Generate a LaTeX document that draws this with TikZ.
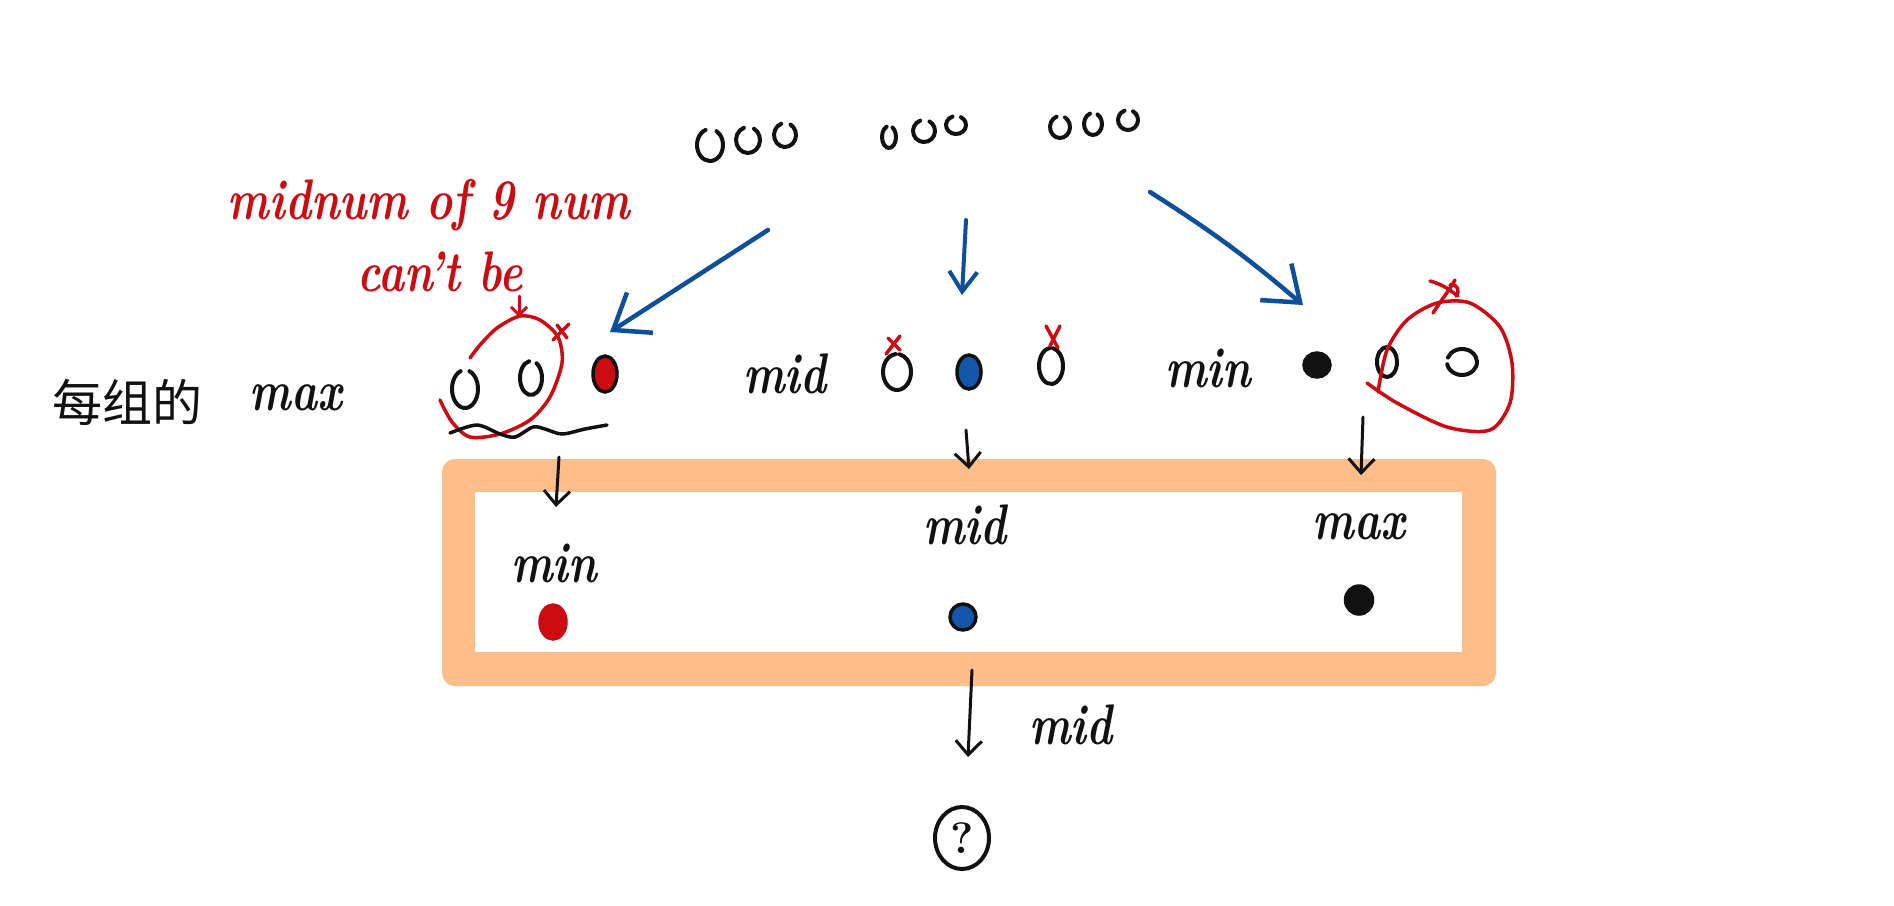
\documentclass[tikz,border=0pt]{standalone}
\usepackage{fontspec}
\usepackage{graphicx}
\newfontfamily\cjk{Noto Sans CJK SC}
\usetikzlibrary{arrows.meta,shapes.geometric}
\definecolor{ink}{HTML}{111111}
\definecolor{hred}{HTML}{CC0A12}
\definecolor{hblue}{HTML}{0E4F9A}
\definecolor{dotblue}{HTML}{1457AA}
\definecolor{hlorange}{HTML}{FDBE8C}
\newcommand\hw[1]{\scalebox{1}[1.3]{#1}}
\tikzset{
  pen/.style={line width=4pt, draw=ink, line cap=round, line join=round},
  redpen/.style={line width=3.5pt, draw=hred, line cap=round, line join=round},
  bluearrow/.style={line width=4.5pt, draw=hblue, line cap=round, line join=round,
    -{Straight Barb[length=32pt, width=48pt, line width=4.5pt]}},
  bluearrowsmall/.style={line width=4pt, draw=hblue, line cap=round, line join=round,
    -{Straight Barb[length=20pt, width=28pt, line width=4pt]}},
  blackarrow/.style={line width=3pt, draw=ink, line cap=round, line join=round,
    -{Straight Barb[length=14pt, width=26pt, line width=3pt]}},
  redarrow/.style={line width=3pt, draw=hred, line cap=round, line join=round,
    -{Straight Barb[length=8pt, width=16pt, line width=3pt]}},
  lbl/.style={font=\fontsize{44}{44}\selectfont\bfseries\itshape, text=ink, inner sep=0pt},
  redlbl/.style={font=\fontsize{44}{44}\selectfont\bfseries\itshape, text=hred, inner sep=0pt},
  dotnode/.style={ellipse, inner sep=0pt, line width=3.5pt},
}
\begin{document}
\begin{tikzpicture}[x=1pt,y=-1pt]
\useasboundingbox[fill=white] (0,0) rectangle (1894,905);

% ---------- top groups of hollow circles ----------
\foreach \n/\cx/\cy/\rx/\ry in {11/710/145/13/16, 12/748/140/12/13, 13/785/135/11/12,
                                21/889/137/7/11, 22/924/131/11/11, 23/956/125/10/9,
                                31/1060/127/10/11, 32/1093/124/9/11, 33/1128/120/10/10}{
  \coordinate (t\n) at (\cx,\cy);
  \draw[pen] (t\n) ++(110:\rx pt and \ry pt) arc[start angle=110, end angle=420, x radius=\rx pt, y radius=\ry pt];
}
\coordinate (g1) at (768,230);
\coordinate (g2) at (966,220);
\coordinate (g3) at (1150,192);

% ---------- red annotation ----------
\node[redlbl] (rtxt1) at (429,205) {\hw{midnum of 9 num}};
\node[redlbl] (rtxt2) at (440,272) {\hw{can't be}};
\coordinate (ra1) at (519,296);
\coordinate (ra2) at (519,317);
\draw[redarrow] (ra1) -- (ra2);

% ---------- left group ----------
\node[font=\cjk\fontsize{50}{50}\selectfont, text=ink, inner sep=0pt] (lcn) at (127,402) {每组的};
\node[lbl] (lmax) at (296,398) {\hw{max}};
\coordinate (l1) at (465,389);
\draw[pen] (l1) ++(110:13pt and 19pt) arc[start angle=110, end angle=430, x radius=13pt, y radius=19pt];
\coordinate (l2) at (531,378);
\draw[pen] (l2) ++(100:11pt and 17pt) arc[start angle=100, end angle=420, x radius=11pt, y radius=17pt];
\node[dotnode, draw=ink, fill=hred, minimum width=24pt, minimum height=36pt] (l3) at (605,374) {};
\coordinate (lend) at (610,332);
\draw[redpen] plot[smooth] coordinates {(440,400) (452,422) (470,437) (500,434) (530,420) (550,397) (562,363) (558,337) (540,320) (520,316) (497,328) (480,345) (470,358)};
\draw[redpen] (553,340) -- (569,324);
\draw[redpen] (557,325) -- (567,338);
\draw[pen, line width=3.5pt] plot[smooth] coordinates {(450,433) (477,425) (500,434) (515,437) (533,427) (545,429) (562,434) (585,429) (607,425)};

% ---------- middle group ----------
\node[lbl] (mmid) at (785,374) {\hw{mid}};
\coordinate (m1) at (897,372);
\draw[pen] (m1) ++(95:14pt and 18pt) arc[start angle=95, end angle=440, x radius=14pt, y radius=18pt];
\node[dotnode, draw=ink, fill=dotblue, minimum width=24pt, minimum height=34pt] (m2) at (969,372) {};
\coordinate (m3) at (1051,366);
\draw[pen] (m3) ++(95:12pt and 18pt) arc[start angle=95, end angle=440, x radius=12pt, y radius=18pt];
\coordinate (mend) at (962,295);
\draw[redpen] (886,354) -- (900,336);
\draw[redpen] (888,338) -- (900,350);
\draw[redpen] (1046,326) -- (1058,348);
\draw[redpen] (1060,326) -- (1050,346);

% ---------- right group ----------
\node[lbl] (rmin) at (1208,368) {\hw{min}};
\node[dotnode, draw=ink, fill=ink, minimum width=26pt, minimum height=24pt] (r1) at (1317,365) {};
\coordinate (r2) at (1387,362);
\draw[pen] (r2) ++(90:10pt and 15pt) arc[start angle=90, end angle=440, x radius=10pt, y radius=15pt];
\coordinate (r3) at (1462,362);
\draw[pen] (r3) ++(160:15pt and 13pt) arc[start angle=160, end angle=-170, x radius=15pt, y radius=13pt];
\coordinate (rend) at (1303,305);
\draw[redpen] plot[smooth] coordinates {(1367,383) (1397,403) (1447,427) (1490,430) (1510,403) (1512,363) (1500,327) (1470,303) (1437,303) (1407,320) (1387,350) (1378,392)};
\draw[redpen] (1430,281) .. controls (1445,285) and (1452,292) .. (1458,296);
\draw[redpen] (1455,280) .. controls (1448,292) and (1440,302) .. (1433,313);
\draw[redpen] (1450,285) .. controls (1458,283) and (1460,292) .. (1456,296);

% ---------- blue arrows ----------
\draw[bluearrow] (g1) -- (lend);
\draw[bluearrowsmall] (g2) -- (mend);
\draw[bluearrow] (g3) to[bend left=4] (rend);

% ---------- orange box ----------
\fill[hlorange, rounded corners=13pt] (442,459) rectangle (1496,686);
\fill[white] (475,492) rectangle (1462,652);
\coordinate (boxtop1) at (556,507);
\coordinate (boxtop2) at (969,469);
\coordinate (boxtop3) at (1361,475);
\coordinate (boxbot) at (972,670);

% small black arrows into box
\coordinate (la) at (559,457);
\coordinate (ma) at (966,430);
\coordinate (ra) at (1363,417);
\draw[blackarrow] (la) -- (boxtop1);
\draw[blackarrow] (ma) -- (boxtop2);
\draw[blackarrow] (ra) -- (boxtop3);

% box contents
\node[lbl] (bmin) at (554,563) {\hw{min}};
\node[dotnode, draw=hred, fill=hred, minimum width=26pt, minimum height=34pt] (bred) at (553,622) {};
\node[lbl] (bmid) at (965,525) {\hw{mid}};
\node[dotnode, draw=ink, fill=dotblue, minimum width=26pt, minimum height=26pt] (bblue) at (963,617) {};
\node[lbl] (bmax) at (1359,527) {\hw{max}};
\node[dotnode, draw=ink, fill=ink, minimum width=27pt, minimum height=28pt] (bblack) at (1359,600) {};

% ---------- bottom ----------
\node[ellipse, draw=ink, line width=4pt, minimum width=54pt, minimum height=62pt, inner sep=0pt,
      font=\fontsize{44}{44}\selectfont\bfseries, text=ink] (res) at (962,838) {?};
\coordinate (resin) at (968,757);
\draw[blackarrow] (boxbot) -- (resin);
\node[lbl] (bmid2) at (1071,725) {\hw{mid}};
\end{tikzpicture}
\end{document}
